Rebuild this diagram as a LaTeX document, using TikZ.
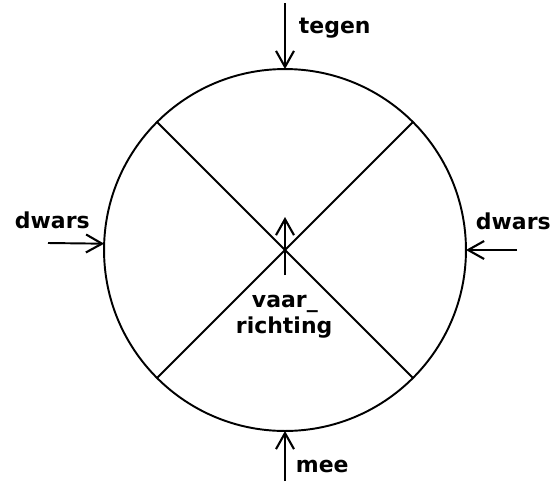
\documentclass[tikz,border=0pt]{standalone}
\usepackage{fontspec}
\setmainfont{DejaVu Sans}
\usetikzlibrary{arrows.meta}
\tikzset{
  lbl/.style={anchor=base west, inner sep=0pt, font=\fontsize{12.5}{14}\bfseries},
  >={Straight Barb[length=3.2mm,width=3.6mm,line width=1.2pt]}
}
\begin{document}
\begin{tikzpicture}[x=0.02cm,y=-0.02cm,line width=1.1pt]
  \useasboundingbox (0,0) rectangle (555,481);
  \node (wheel) [circle,draw,inner sep=0pt,outer sep=0pt,minimum size=7.24cm] at (285,250){};

  \draw (wheel.135) -- (wheel.-45);
  \draw (wheel.45) -- (wheel.225);

  \coordinate (top) at (285,3);
  \coordinate (bottom) at (285,481);
  \coordinate (left) at (48,243);
  \coordinate (right) at (517,250);
  \coordinate (mid) at (285,275);
  \coordinate (tip) at (285,217);

  \draw (top) edge[->] (wheel.north);
  \draw (bottom) edge[->] (wheel.south);
  \draw (left) edge[->] (wheel.178);
  \draw (right) edge[->] (wheel.east);
  \draw (mid) edge[->] (tip);

  \node[lbl] (tegen) at (298,33){tegen};
  \node[lbl] (mee) at (295,472){mee};
  \node[lbl] (dwarsL) at (14,228){dwars};
  \node[lbl] (dwarsR) at (475,229){dwars};
  \node[lbl] (vaar) at (251,307){vaar\_};
  \node[lbl] (richting) at (235,333){richting};
\end{tikzpicture}
\end{document}
